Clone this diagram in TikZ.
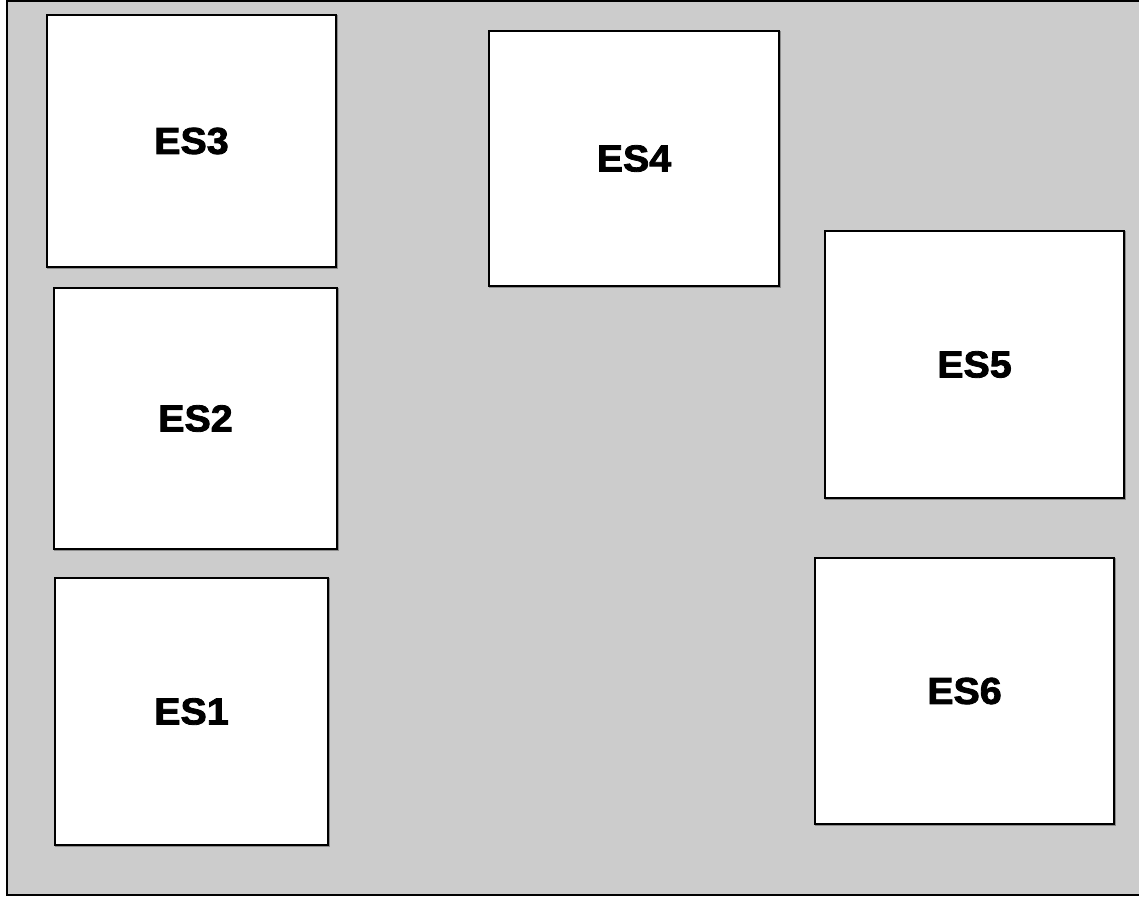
\documentclass[tikz,border=0pt]{standalone}
\usepackage{fontspec}
\setmainfont{Liberation Sans}
\newfontfamily\heavyfont{Liberation Sans}[BoldFeatures={FakeBold=2.2}]
\definecolor{bggray}{HTML}{CCCCCC}
\definecolor{shadowgray}{HTML}{8C8C8C}
\tikzset{
  esbox/.style={draw=black, line width=1.5pt, fill=white, rectangle, inner sep=0pt,
    font=\heavyfont\fontsize{37.5}{40}\selectfont\bfseries,
    preaction={draw=shadowgray, line width=1.5pt, transform canvas={xshift=1.2pt, yshift=-1.2pt}}},
  frame/.style={draw=black, line width=2pt, fill=bggray}
}
\newcommand{\eslabel}[1]{\scalebox{1.05}[1]{#1}}
\begin{document}
\begin{tikzpicture}[x=1pt, y=-1pt]
\useasboundingbox (0,0) rectangle (1139,896);
\draw[frame] (7,1.5) rectangle (1150,894.5);
\node[esbox, minimum width=289pt, minimum height=252pt] (es3) at (191.5,141) {\eslabel{ES3}};
\node[esbox, minimum width=290pt, minimum height=255pt] (es4) at (634,158.5) {\eslabel{ES4}};
\node[esbox, minimum width=299pt, minimum height=267pt] (es5) at (974.5,364.5) {\eslabel{ES5}};
\node[esbox, minimum width=283pt, minimum height=261pt] (es2) at (195.5,418.5) {\eslabel{ES2}};
\node[esbox, minimum width=273pt, minimum height=267pt] (es1) at (191.5,711.5) {\eslabel{ES1}};
\node[esbox, minimum width=299pt, minimum height=266pt] (es6) at (964.5,691) {\eslabel{ES6}};
\end{tikzpicture}
\end{document}
